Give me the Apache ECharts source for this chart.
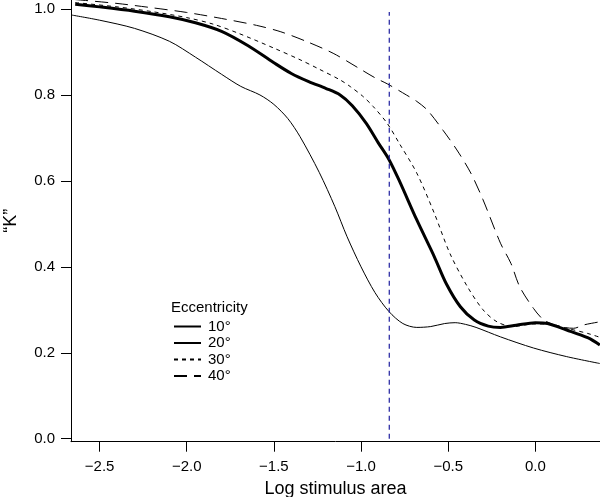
<!DOCTYPE html>
<html>
<head>
<meta charset="utf-8">
<script src="https://cdn.jsdelivr.net/npm/echarts@6/dist/echarts.min.js"></script>
<style>
html,body{margin:0;padding:0;background:#fff;}
#chart{width:600px;height:497px;}
</style>
</head>
<body>
<div id="chart"></div>
<script>
// ---- data ----
const seriesNames = ['10°', '20°', '30°', '40°'];
const ecc10 = [[-2.66,0.986],[-2.50,0.974],[-2.30,0.955],[-2.10,0.925],[-1.95,0.888],[-1.80,0.848],[-1.69,0.820],[-1.58,0.800],[-1.50,0.778],[-1.42,0.745],[-1.35,0.703],[-1.24,0.620],[-1.15,0.540],[-1.08,0.470],[-1.00,0.400],[-0.92,0.340],[-0.84,0.296],[-0.76,0.268],[-0.68,0.259],[-0.60,0.261],[-0.52,0.268],[-0.46,0.270],[-0.40,0.266],[-0.34,0.259],[-0.20,0.237],[-0.01,0.211],[0.18,0.191],[0.37,0.175]];
const ecc20 = [[-2.64,1.011],[-2.50,1.005],[-2.30,0.995],[-2.10,0.982],[-1.95,0.968],[-1.80,0.948],[-1.65,0.915],[-1.50,0.875],[-1.40,0.850],[-1.30,0.831],[-1.20,0.815],[-1.12,0.800],[-1.05,0.775],[-0.97,0.734],[-0.90,0.688],[-0.84,0.650],[-0.78,0.600],[-0.68,0.509],[-0.58,0.424],[-0.51,0.360],[-0.43,0.307],[-0.35,0.276],[-0.27,0.262],[-0.20,0.259],[-0.11,0.264],[0.00,0.270],[0.07,0.268],[0.18,0.253],[0.30,0.235],[0.37,0.218]];
const ecc30 = [[-2.64,1.015],[-2.40,1.005],[-2.20,0.994],[-2.00,0.980],[-1.85,0.965],[-1.70,0.943],[-1.50,0.909],[-1.35,0.882],[-1.24,0.860],[-1.12,0.835],[-1.06,0.819],[-0.99,0.797],[-0.93,0.773],[-0.85,0.734],[-0.78,0.687],[-0.68,0.618],[-0.58,0.525],[-0.49,0.431],[-0.39,0.354],[-0.30,0.300],[-0.22,0.272],[-0.13,0.261],[-0.01,0.267],[0.08,0.267],[0.18,0.257],[0.30,0.245],[0.37,0.236]];
const ecc40 = [[-2.64,1.022],[-2.40,1.013],[-2.20,1.003],[-2.00,0.992],[-1.80,0.978],[-1.60,0.962],[-1.46,0.947],[-1.31,0.924],[-1.16,0.897],[-1.02,0.864],[-0.92,0.840],[-0.85,0.826],[-0.74,0.800],[-0.68,0.785],[-0.62,0.765],[-0.53,0.718],[-0.45,0.672],[-0.37,0.618],[-0.30,0.556],[-0.20,0.455],[-0.14,0.408],[-0.09,0.354],[-0.01,0.303],[0.05,0.276],[0.14,0.261],[0.22,0.257],[0.28,0.265],[0.37,0.272]];
const refLineX = [[-0.838,0],[-0.838,0.993]];
const xTicks = [-2.5,-2.0,-1.5,-1.0,-0.5,0.0];
const yTicks = [0.0,0.2,0.4,0.6,0.8,1.0];
const legendTitle = 'Eccentricity';
const xName = 'Log stimulus area';
const yName = '\u201CK\u201D';

const font = '"Liberation Sans", Arial, Helvetica, sans-serif';
const chart = echarts.init(document.getElementById('chart'), null, {renderer:'canvas'});
const fmt = v => v.toFixed(1).replace('-', '\u2212');

chart.setOption({
  animation: false,
  textStyle: {fontFamily: font, color: '#000'},
  grid: {left: 71, right: 0, top: 0, bottom: 55.3, containLabel: false, outerBoundsMode: 'none'},
  title: {
    text: legendTitle, left: 171, top: 300, padding: 0,
    textStyle: {fontFamily: font, fontSize: 15, fontWeight: 'normal', color: '#000'}
  },
  legend: {
    data: seriesNames, orient: 'vertical', left: 173, top: 319, padding: 0,
    itemWidth: 27, itemHeight: 10, itemGap: 1.5,
    itemStyle: {opacity: 0},
    textStyle: {fontFamily: font, fontSize: 15, color: '#000', padding: [0,0,0,2]},
    selectedMode: false
  },
  xAxis: {
    type: 'value', min: -2.664, max: 0.371,
    name: xName, nameLocation: 'middle', nameGap: 35,
    nameTextStyle: {fontFamily: font, fontSize: 18, color: '#000'},
    axisLine: {show: true, onZero: false, lineStyle: {color: '#000', width: 1}},
    axisTick: {show: true, inside: false, length: 10, customValues: xTicks, lineStyle: {color: '#000', width: 1}},
    axisLabel: {customValues: xTicks, margin: 18, fontSize: 15, color: '#000', fontFamily: font, formatter: fmt},
    splitLine: {show: false}
  },
  yAxis: {
    type: 'value', min: -0.007, max: 1.021,
    name: yName, nameLocation: 'middle', nameGap: 51, nameRotate: 90,
    nameTextStyle: {fontFamily: font, fontSize: 18, color: '#000'},
    axisLine: {show: true, onZero: false, lineStyle: {color: '#000', width: 1}},
    axisTick: {show: true, inside: false, length: 10, customValues: yTicks, lineStyle: {color: '#000', width: 1}},
    axisLabel: {customValues: yTicks, margin: 16, fontSize: 15, color: '#000', fontFamily: font, formatter: fmt},
    splitLine: {show: false}
  },
  series: [
    {name: seriesNames[0], type: 'line', data: ecc10, symbol: 'none', smooth: 0.3,
     lineStyle: {color: '#000', width: 1}, itemStyle: {color: '#000'}},
    {name: seriesNames[1], type: 'line', data: ecc20, symbol: 'none', smooth: 0.3,
     lineStyle: {color: '#000', width: 3}, itemStyle: {color: '#000'}},
    {name: seriesNames[2], type: 'line', data: ecc30, symbol: 'none', smooth: 0.3,
     lineStyle: {color: '#000', width: 1, type: [4,4]}, itemStyle: {color: '#000'}},
    {name: seriesNames[3], type: 'line', data: ecc40, symbol: 'none', smooth: 0.3,
     lineStyle: {color: '#000', width: 1, type: [13,7]}, itemStyle: {color: '#000'}},
    {name: 'ref', type: 'line', data: refLineX, symbol: 'none',
     lineStyle: {color: '#1e1e9e', width: 1.2, type: [5,4]}, silent: true}
  ]
});
</script>
</body>
</html>
